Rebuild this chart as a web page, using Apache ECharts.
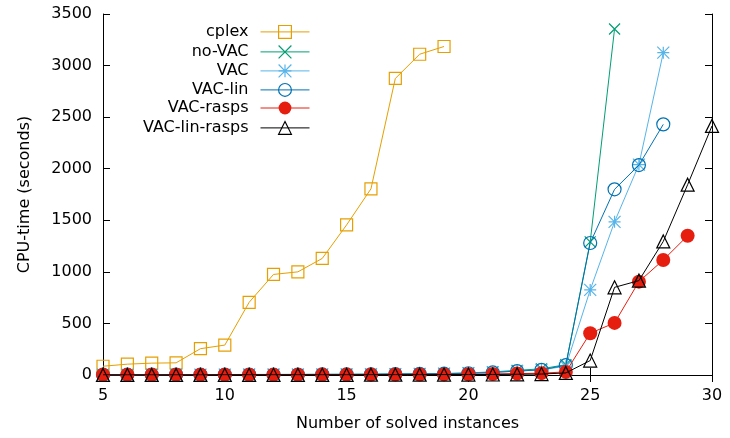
<!DOCTYPE html>
<html>
<head>
<meta charset="utf-8">
<script src="https://cdn.jsdelivr.net/npm/echarts@6/dist/echarts.min.js"></script>
<style>
  html, body { margin: 0; padding: 0; background: #fff; }
  #chart { width: 730px; height: 438px; }
</style>
</head>
<body>
<div id="chart"></div>
<script>
// Number of solved instances (x) for each solver; every series starts at 5.
const startCount = 5;
const seriesNames = ['cplex', 'no-VAC', 'VAC', 'VAC-lin', 'VAC-rasps', 'VAC-lin-rasps'];

// CPU-time in seconds, one entry per solved instance count
const cplex        = [85, 105, 115, 118, 255, 290, 705, 975, 1000, 1130, 1455, 1805, 2875, 3110, 3185];
const noVAC        = [3, 3, 4, 4, 4, 5, 5, 5, 6, 6, 7, 8, 10, 12, 15, 20, 30, 45, 60, 100, 1290, 3355];
const vac          = [3, 3, 3, 4, 4, 4, 5, 5, 5, 6, 6, 7, 9, 11, 13, 17, 25, 38, 50, 85, 825, 1485, 2040, 3125];
const vacLin       = [3, 3, 3, 4, 4, 4, 5, 5, 5, 6, 6, 7, 9, 11, 13, 17, 25, 38, 50, 95, 1280, 1800, 2035, 2430];
const vacRasps     = [2, 2, 2, 2, 3, 3, 3, 3, 3, 4, 4, 4, 5, 5, 6, 7, 10, 14, 18, 30, 405, 505, 905, 1115, 1350];
const vacLinRasps  = [1, 1, 1, 1, 1, 2, 2, 2, 2, 2, 2, 3, 3, 3, 4, 4, 5, 7, 9, 20, 140, 850, 915, 1295, 1845, 2415];

const xTicks = { min: 5, max: 30, interval: 5 };
const yTicks = { min: 0, max: 3500, interval: 500 };

const colors = ['#E69F00', '#009E73', '#56B4E9', '#0072B2', '#E51E10', '#000000'];
const values = [cplex, noVAC, vac, vacLin, vacRasps, vacLinRasps];

const FONT = 'DejaVu Sans';
const FS = 16;
const symbols = [
  'rect',
  'path://M0,0L10,10M10,0L0,10',
  'path://M0,0L10,10M10,0L0,10M5,0L5,10M0,5L10,5',
  'circle',
  'circle',
  'triangle'
];
const sizes = [12, 11, 12, 13, 14, 13];
const filled = [false, false, false, false, true, false];

function pairs(arr) {
  return arr.map((v, i) => [startCount + i, v]);
}

function markerStyle(k) {
  return filled[k]
    ? { color: colors[k], borderColor: colors[k], borderWidth: 0 }
    : { color: 'none', borderColor: colors[k], borderWidth: 1.2 };
}

const series = seriesNames.map((name, k) => ({
  name: name,
  type: 'line',
  data: pairs(values[k]),
  symbol: symbols[k],
  symbolSize: sizes[k],
  showAllSymbol: true,
  animation: false,
  z: 2 + k,
  lineStyle: { color: colors[k], width: 1 },
  itemStyle: markerStyle(k),
  emphasis: { disabled: true }
}));

// One single-item legend per row so the icons line up on the right edge
const legendRowTops = [23, 43, 62, 81, 100, 119];
const legends = seriesNames.map((name, k) => ({
  data: [name],
  orient: 'vertical',
  align: 'right',
  right: 420,
  top: legendRowTops[k],
  padding: 0,
  itemWidth: 49,
  itemHeight: 16,
  selectedMode: false,
  itemStyle: markerStyle(k),
  lineStyle: { color: colors[k], width: 1 },
  textStyle: { fontFamily: FONT, fontSize: FS, color: '#000', padding: [0, 7, 0, 0] }
}));

const axisLine = { show: true, lineStyle: { color: '#000', width: 1 } };
const axisTick = { show: true, inside: true, length: 7, lineStyle: { color: '#000', width: 1 } };
const plainNumber = v => String(v);

const option = {
  backgroundColor: '#fff',
  animation: false,
  color: colors,
  legend: legends,
  grid: { left: 103, right: 18, top: 14, bottom: 63, containLabel: false },
  xAxis: [
    {
      type: 'value', position: 'bottom',
      min: xTicks.min, max: xTicks.max, interval: xTicks.interval,
      name: 'Number of solved instances', nameLocation: 'middle', nameGap: 41,
      nameTextStyle: { fontFamily: FONT, fontSize: FS, color: '#000' },
      axisLine: axisLine, axisTick: axisTick, splitLine: { show: false },
      axisLabel: { fontFamily: FONT, fontSize: FS, color: '#000', margin: 13, formatter: plainNumber }
    },
    {
      type: 'value', position: 'top',
      min: xTicks.min, max: xTicks.max, interval: xTicks.interval,
      axisLine: axisLine, axisTick: axisTick, splitLine: { show: false },
      axisLabel: { show: false }
    }
  ],
  yAxis: [
    {
      type: 'value', position: 'left',
      min: yTicks.min, max: yTicks.max, interval: yTicks.interval,
      name: 'CPU-time (seconds)', nameLocation: 'middle', nameGap: 70,
      nameTextStyle: { fontFamily: FONT, fontSize: FS, color: '#000' },
      axisLine: axisLine, axisTick: axisTick, splitLine: { show: false },
      axisLabel: { fontFamily: FONT, fontSize: FS, color: '#000', margin: 11, formatter: plainNumber }
    },
    {
      type: 'value', position: 'right',
      min: yTicks.min, max: yTicks.max, interval: yTicks.interval,
      axisLine: axisLine, axisTick: axisTick, splitLine: { show: false },
      axisLabel: { show: false }
    }
  ],
  series: series
};

const chart = echarts.init(document.getElementById('chart'), null, { renderer: 'canvas' });
chart.setOption(option);
</script>
</body>
</html>
